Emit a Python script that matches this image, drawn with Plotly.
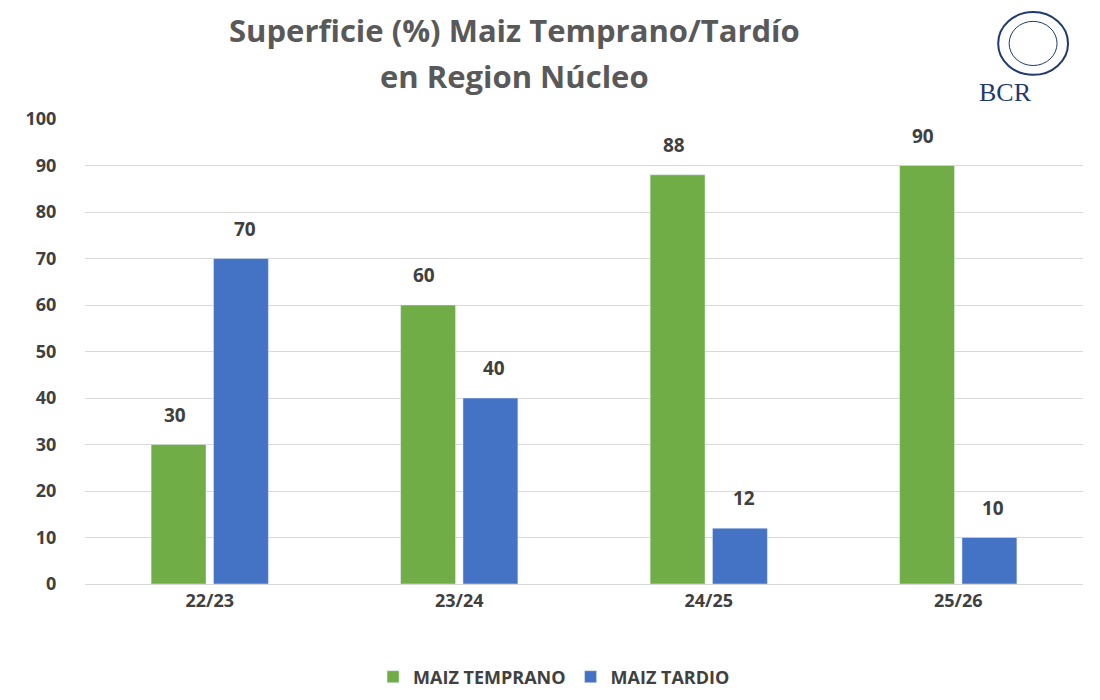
import plotly.graph_objects as go

campaigns = ['22/23', '23/24', '24/25', '25/26']
temprano = [30, 60, 88, 90]
tardio = [70, 40, 12, 10]

fig = go.Figure()

fig.add_trace(go.Bar(x=campaigns, y=temprano, name='MAIZ TEMPRANO',
                     marker=dict(color='#70AD47')))
fig.add_trace(go.Bar(x=campaigns, y=tardio, name='MAIZ TARDIO',
                     marker=dict(color='#4472C4')))

# value labels above bars
for vals, shift in ((temprano, -35), (tardio, 35)):
    for c, v in zip(campaigns, vals):
        fig.add_annotation(x=c, y=v, text=f'<b>{v}</b>', showarrow=False,
                           xshift=shift, yshift=30,
                           font=dict(size=19, color='#404040'))

fig.update_layout(
    width=1100, height=700,
    paper_bgcolor='white', plot_bgcolor='white',
    font=dict(family='Open Sans', color='#404040'),
    barmode='group', bargap=0.5, bargroupgap=0.12,
    margin=dict(l=77, r=25, t=111, b=122),
    xaxis=dict(tickfont=dict(size=18, color='#404040', weight='bold'),
               showline=True, linecolor='#d9d9d9', ticks='', automargin=False),
    yaxis=dict(range=[0, 100], dtick=10, gridcolor='#d9d9d9',
               tickfont=dict(size=18, color='#404040', weight='bold'),
               zeroline=False, ticklen=24, ticks='outside', tickcolor='white',
               automargin=False),
    legend=dict(orientation='h', x=0.47, xanchor='center', y=-0.2, yanchor='middle',
                font=dict(size=18, color='#404040', weight='bold')),
)

# title lines
fig.add_annotation(text='<b>Superficie (%) Maiz Temprano/Tardío</b>', xref='paper', yref='paper',
                   x=0.43, y=1.192, showarrow=False, yanchor='middle',
                   font=dict(size=31, color='#595959'))
fig.add_annotation(text='<b>en Region Núcleo</b>', xref='paper', yref='paper',
                   x=0.43, y=1.092, showarrow=False, yanchor='middle',
                   font=dict(size=31, color='#595959'))

# logo approximation
fig.add_shape(type='circle', xref='paper', yref='paper',
              x0=0.915, x1=0.985, y0=1.095, y1=1.23,
              line=dict(color='#1f3a6e', width=2))
fig.add_shape(type='circle', xref='paper', yref='paper',
              x0=0.926, x1=0.974, y0=1.115, y1=1.21,
              line=dict(color='#1f3a6e', width=1))
fig.add_annotation(text='BCR', xref='paper', yref='paper', x=0.951, y=1.058,
                   showarrow=False, yanchor='middle',
                   font=dict(family='Liberation Serif', size=26, color='#1f3a6e'))

fig.write_html("out.html")
